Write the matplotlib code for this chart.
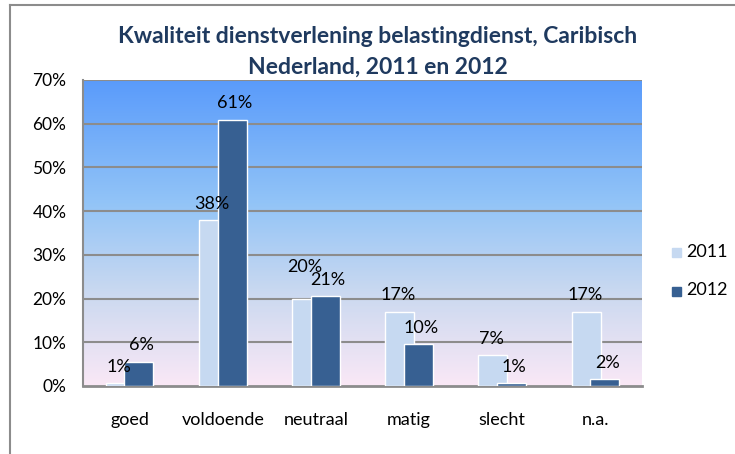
import numpy as np
import matplotlib.pyplot as plt
from matplotlib.colors import LinearSegmentedColormap
from matplotlib.lines import Line2D

plt.rcParams['font.family'] = ['Lato', 'DejaVu Sans']

# data
categories = ['goed', 'voldoende', 'neutraal', 'matig', 'slecht', 'n.a.']
v2011 = [0.6, 38.0, 20.0, 17.0, 7.0, 17.0]
v2012 = [5.6, 60.9, 20.6, 9.6, 0.6, 1.6]
series = ['2011', '2012']
yticks = [0, 10, 20, 30, 40, 50, 60, 70]

c2011 = '#c6d9f1'
c2012 = '#376092'

fig = plt.figure(figsize=(7.35, 4.54), dpi=100)
ax = fig.add_axes([83/735, 1-386/454, (642-83)/735, (386-80)/454])

# achtergrond gradient
cm = LinearSegmentedColormap.from_list('bg', [(0, '#fae8f6'), (0.3, '#cbd9f0'),
                                              (0.6, '#92c4f7'), (1.0, '#5a9bfb')])
grad = np.linspace(0, 1, 256).reshape(-1, 1)
ax.imshow(grad, cmap=cm, origin='lower', aspect='auto',
          extent=[-0.5, len(categories)-0.5, 0, 70], zorder=0)

x = np.arange(len(categories))
w = 0.31
off = 0.1
b1 = ax.bar(x-off, v2011, w, color=c2011, edgecolor='white', linewidth=1, zorder=3)
b2 = ax.bar(x+off, v2012, w, color=c2012, edgecolor='white', linewidth=1, zorder=4)

for bars, vals, dx in ((b1, v2011, -1), (b2, v2012, 2)):
    for i, (r, v) in enumerate(zip(bars, vals)):
        dy = 6
        if bars is b1 and categories[i] == 'neutraal':
            dy = 17   # zoals in excel, label wat hoger om overlap te vermijden
        ax.annotate(f'{v:.0f}%', (r.get_x()+r.get_width()/2, v), xytext=(dx, dy),
                    textcoords='offset points', ha='center', va='bottom',
                    fontsize=13, zorder=5)

ax.set_xlim(-0.5, len(categories)-0.5)
ax.set_ylim(0, 70)
ax.set_yticks(yticks)
ax.set_yticklabels([f'{t}%' for t in yticks], fontsize=12.5)
ax.set_xticks(x)
ax.set_xticklabels(categories, fontsize=13)
ax.tick_params(axis='y', length=0, pad=12)
ax.tick_params(axis='x', length=0, pad=19)
for t in yticks[1:]:
    ax.axhline(t, color='#8c8c8c', lw=1.5, zorder=1)
for s in ['top', 'right']:
    ax.spines[s].set_visible(False)
ax.spines['left'].set_color('#8c8c8c')
ax.spines['left'].set_linewidth(1.5)
ax.spines['bottom'].set_color('#8c8c8c')
ax.spines['bottom'].set_linewidth(2)

fig.text(0.514, 0.92, 'Kwaliteit dienstverlening belastingdienst, Caribisch',
         ha='center', va='center', fontsize=16.5, fontweight='bold', color='#1f3a5f')
fig.text(0.514, 0.853, 'Nederland, 2011 en 2012',
         ha='center', va='center', fontsize=16.5, fontweight='bold', color='#1f3a5f')

# legenda
for yy, col, lab in ((0.445, c2011, series[0]), (0.361, c2012, series[1])):
    fig.patches.append(plt.Rectangle((672/735, yy-0.012), 9/735, 9/454,
                                     color=col, transform=fig.transFigure))
    fig.text(686/735, yy, lab, fontsize=13, va='center')

# rand
fig.add_artist(Line2D([10/735, 1], [1-5/454, 1-5/454], color='#8c8c8c', lw=1.5))
fig.add_artist(Line2D([10/735, 10/735], [0, 1-5/454], color='#8c8c8c', lw=1.5))

fig.savefig('out.png', dpi=100)
